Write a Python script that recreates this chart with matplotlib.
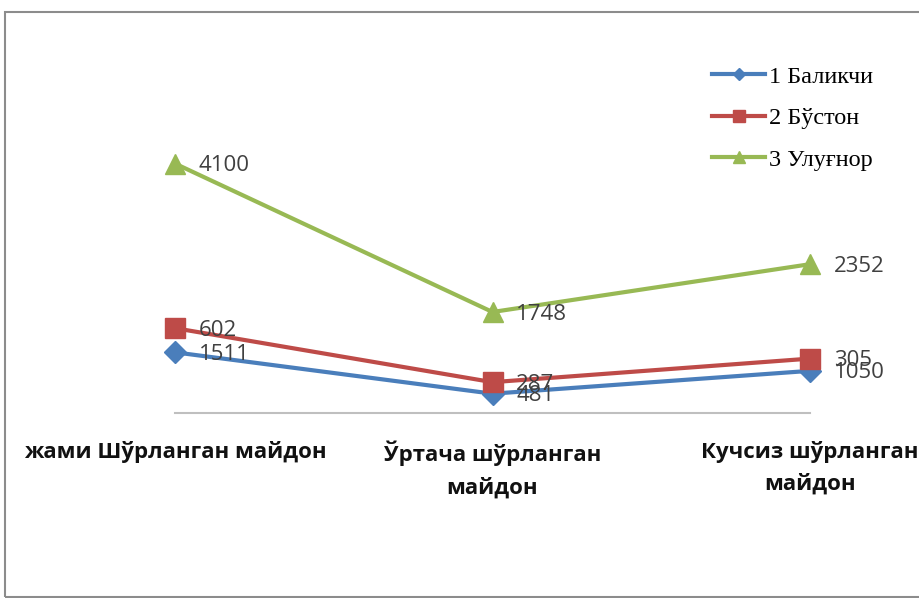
import numpy as np
import matplotlib.pyplot as plt
import matplotlib.patches as mpatches

# --- data (stacked line chart, labels show each series' own value) ---
categories = ['жами Шўрланган майдон', 'Ўртача шўрланган\nмайдон', 'Кучсиз шўрланган\nмайдон']
series_names = ['1 Баликчи', '2 Бўстон', '3 Улуғнор']
baliqchi = [1511, 481, 1050]
buston = [602, 287, 305]
ulugnor = [4100, 1748, 2352]

colors = ['#4A7EBB', '#BE4B48', '#98B954']
markers = ['D', 's', '^']
msizes = [11, 14, 15]

values = np.array([baliqchi, buston, ulugnor])
stacked = np.cumsum(values, axis=0)
x = np.arange(len(categories))

fig = plt.figure(figsize=(9.19, 5.98), dpi=100)
ax = fig.add_axes([175 / 919, 1 - 413 / 598, 635 / 919, 281 / 598])

for i in range(len(series_names)):
    ax.plot(x, stacked[i], color=colors[i], lw=3, marker=markers[i], ms=msizes[i],
            mec=colors[i], mfc=colors[i], label=series_names[i], clip_on=False, zorder=3 + i)
    for xi, yi, v in zip(x, stacked[i], values[i]):
        ax.annotate(str(v), (xi, yi), xytext=(17, -1.5), textcoords='offset points',
                    va='center', ha='left', fontsize=16, color='#404040',
                    family=['Open Sans', 'DejaVu Sans'], zorder=10)

ax.set_xlim(0, 2)
ax.set_ylim(0, 7000)
for s in ['top', 'right', 'left']:
    ax.spines[s].set_visible(False)
ax.spines['bottom'].set_color('#BFBFBF')
ax.spines['bottom'].set_linewidth(1.5)
ax.set_yticks([])
ax.set_xticks(x)
ax.set_xticklabels(categories, fontsize=16, fontweight='bold', linespacing=1.65,
                   family=['Open Sans', 'DejaVu Sans'], color='#111111')
ax.tick_params(axis='x', length=0, pad=20)
ax.patch.set_alpha(0)

leg = ax.legend(loc='upper left', bbox_to_anchor=(690 / 919, 1 - 44 / 598),
                bbox_transform=fig.transFigure, frameon=False,
                prop={'family': 'Liberation Serif', 'size': 17.5},
                handlelength=2.2, handletextpad=0.15, labelspacing=0.8,
                markerscale=0.6)

# chart border
fig.patches.append(mpatches.Rectangle((5 / 919, 1 / 598), 1.2, 1 - 13 / 598,
                                      transform=fig.transFigure, fill=False,
                                      edgecolor='#8C8C8C', lw=1.5))

fig.savefig('out.png', dpi=100)
